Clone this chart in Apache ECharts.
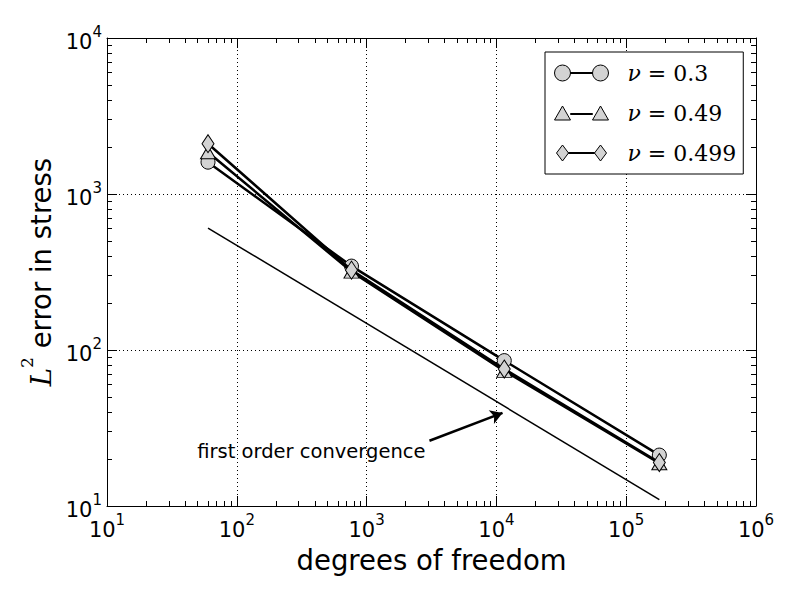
<!DOCTYPE html>
<html>
<head>
<meta charset="utf-8">
<script src="https://cdn.jsdelivr.net/npm/echarts@6/dist/echarts.min.js"></script>
<style>html,body{margin:0;padding:0;background:#fff}#c{width:800px;height:600px}</style>
</head>
<body>
<div id="c"></div>
<script>
// ---- data ----
const dof = [60, 765, 11500, 180000];
const nuLabels = ['0.3', '0.49', '0.499'];
const errNu03 = [1600, 345, 85.5, 21.2];
const errNu049 = [1850, 318, 73.5, 18.8];
const errNu0499 = [2100, 325, 75.5, 19.0];
const refX = [60, 180000];
const refY = [605, 11.0];
const arrowFrom = [3050, 26.2];
const arrowTo = [11150, 39.5];
const noteAt = [2843, 22.2];
const noteText = 'first order convergence';
const xTickExp = [1, 2, 3, 4, 5, 6];
const yTickExp = [1, 2, 3, 4];

const pair = (xs, ys) => xs.map((x, i) => [x, ys[i]]);
const expLabel = v => {
  const e = Math.round(Math.log10(v));
  return '{b|10}{s|' + e + '}';
};
const tickRich = {
  b: { fontFamily: 'DejaVu Sans', fontSize: 21, color: '#000', verticalAlign: 'bottom', lineHeight: 28 },
  s: { fontFamily: 'DejaVu Sans', fontSize: 15, color: '#000', verticalAlign: 'top', lineHeight: 28 }
};

const chart = echarts.init(document.getElementById('c'), null, { renderer: 'svg' });

const iconCircle = 'path://M0,8A8,8,0,1,1,16,8A8,8,0,1,1,0,8ZM16,7.5L38,7.5L38,8.5L16,8.5ZM38,8A8,8,0,1,1,54,8A8,8,0,1,1,38,8Z';
const iconTri = 'path://M0,15L8,1L16,15ZM16,8.5L38,8.5L38,9.5L16,9.5ZM38,15L46,1L54,15Z';
const iconDia = 'path://M2,8L8,0L14,8L8,16ZM14,7.5L40,7.5L40,8.5L14,8.5ZM40,8L46,0L52,8L46,16Z';

const names = nuLabels.map(v => 'ν=' + v);
const markerStyle = { color: '#d3d3d3', borderColor: '#000', borderWidth: 1 };

const baseX = {
  type: 'log', logBase: 10, min: Math.pow(10, xTickExp[0]), max: Math.pow(10, xTickExp[xTickExp.length - 1]),
  axisLine: { show: true, lineStyle: { color: '#000', width: 1 } },
  axisTick: { show: true, inside: true, length: 10, lineStyle: { color: '#000', width: 1 } },
  minorTick: { show: true, splitNumber: 9, length: 5, lineStyle: { color: '#000', width: 1 } }
};
const baseY = {
  type: 'log', logBase: 10, min: Math.pow(10, yTickExp[0]), max: Math.pow(10, yTickExp[yTickExp.length - 1]),
  axisLine: { show: true, lineStyle: { color: '#000', width: 1 } },
  axisTick: { show: true, inside: true, length: 10, lineStyle: { color: '#000', width: 1 } },
  minorTick: { show: true, splitNumber: 9, length: 5, lineStyle: { color: '#000', width: 1 } }
};

const option = {
  backgroundColor: '#fff',
  animation: false,
  textStyle: { fontFamily: 'DejaVu Sans' },
  grid: { left: 107, right: 44, top: 38, bottom: 94, containLabel: false },
  xAxis: [
    Object.assign({}, baseX, {
      position: 'bottom',
      name: 'degrees of freedom', nameLocation: 'middle', nameGap: 40,
      nameTextStyle: { fontFamily: 'DejaVu Sans', fontSize: 27.5, color: '#000' },
      axisLabel: { show: true, margin: 6, formatter: expLabel, rich: tickRich },
      splitLine: { show: true, lineStyle: { color: '#000', width: 1, type: [1, 3] } },
      minorSplitLine: { show: false }
    }),
    Object.assign({}, baseX, { position: 'top', axisLabel: { show: false }, splitLine: { show: false } })
  ],
  yAxis: [
    Object.assign({}, baseY, {
      position: 'left',
      name: '{L|L}{s|2}{t| error in stress}', nameLocation: 'middle', nameGap: 50, nameRotate: 90,
      nameTextStyle: {
        rich: {
          L: { fontFamily: 'DejaVu Serif', fontStyle: 'italic', fontSize: 27.5, color: '#000', verticalAlign: 'bottom', lineHeight: 36 },
          s: { fontFamily: 'DejaVu Serif', fontSize: 17, color: '#000', verticalAlign: 'top', lineHeight: 36 },
          t: { fontFamily: 'DejaVu Sans', fontSize: 27.5, color: '#000', verticalAlign: 'bottom', lineHeight: 36 }
        }
      },
      axisLabel: { show: true, margin: 5, formatter: expLabel, rich: tickRich },
      splitLine: { show: true, lineStyle: { color: '#000', width: 1, type: [1, 3] } }
    }),
    Object.assign({}, baseY, { position: 'right', axisLabel: { show: false }, splitLine: { show: false } })
  ],
  legend: {
    orient: 'vertical', left: 545, top: 52,
    padding: [9, 7, 9, 9], itemGap: 16,
    borderColor: '#000', borderWidth: 1, backgroundColor: '#fff', borderRadius: 0,
    itemWidth: 54, itemHeight: 16,
    itemStyle: { color: '#d3d3d3', borderColor: '#000', borderWidth: 1 },
    selectedMode: false,
    data: [
      { name: names[0], icon: iconCircle },
      { name: names[1], icon: iconTri },
      { name: names[2], icon: iconDia }
    ],
    formatter: n => '{i|ν}{t| = ' + n.split('=')[1] + '}',
    textStyle: {
      padding: [0, 0, 0, 14], lineHeight: 24,
      rich: {
        i: { fontFamily: 'DejaVu Serif', fontStyle: 'italic', fontSize: 22, color: '#000', lineHeight: 24 },
        t: { fontFamily: 'DejaVu Serif', fontSize: 22, color: '#000', lineHeight: 24 }
      }
    }
  },
  series: [
    {
      name: 'reference', type: 'line', data: pair(refX, refY), symbol: 'none',
      lineStyle: { color: '#000', width: 1.5 }, silent: true, z: 1,
      markLine: {
        silent: true, symbol: ['none', 'arrow'], symbolSize: [11, 12],
        lineStyle: { color: '#000', width: 2.5, type: 'solid' },
        label: { show: false },
        data: [[{ coord: arrowFrom }, { coord: arrowTo }]]
      },
      markPoint: {
        silent: true, symbol: 'circle', symbolSize: 0,
        itemStyle: { color: 'transparent' },
        label: { show: true, position: 'left', distance: 0, formatter: noteText, fontFamily: 'DejaVu Sans', fontSize: 19.5, color: '#000' },
        data: [{ coord: noteAt }]
      }
    },
    {
      name: names[0], type: 'line', data: pair(dof, errNu03), symbol: 'circle', symbolSize: 14,
      itemStyle: markerStyle, lineStyle: { color: '#000', width: 2.5 }, z: 3
    },
    {
      name: names[1], type: 'line', data: pair(dof, errNu049), symbol: 'triangle', symbolSize: [15, 13],
      itemStyle: markerStyle, lineStyle: { color: '#000', width: 2.5 }, z: 4
    },
    {
      name: names[2], type: 'line', data: pair(dof, errNu0499), symbol: 'diamond', symbolSize: [12, 18],
      itemStyle: markerStyle, lineStyle: { color: '#000', width: 2.5 }, z: 5
    }
  ]
};
chart.setOption(option);
</script>
</body>
</html>
